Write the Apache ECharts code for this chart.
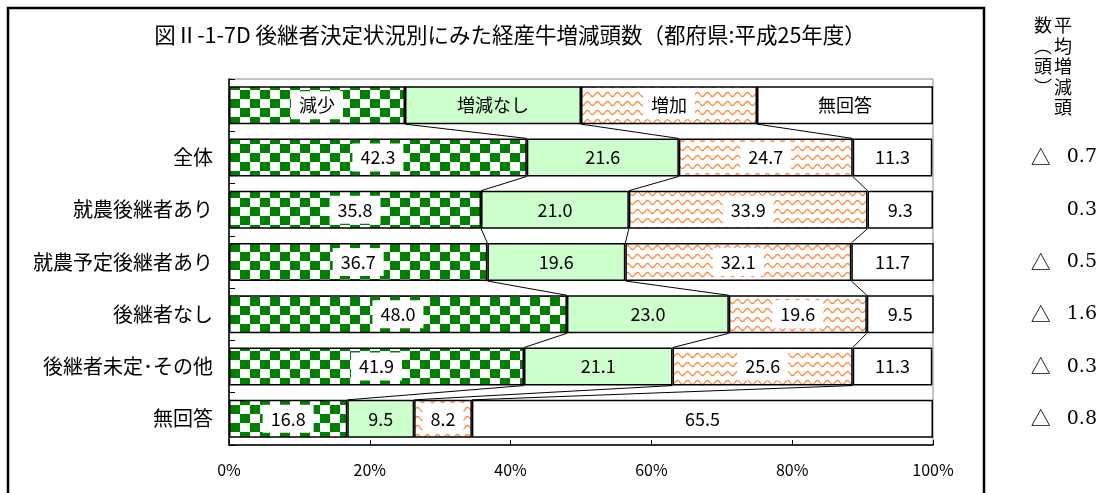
<!DOCTYPE html>
<html>
<head>
<meta charset="utf-8">
<script src="https://cdn.jsdelivr.net/npm/echarts@6/dist/echarts.min.js"></script>
<style>
  html, body { margin: 0; padding: 0; background: #fff; }
  #chart { width: 1109px; height: 493px; }
</style>
</head>
<body>
<div id="chart"></div>
<script>
// 行（先頭行は凡例の見出し行）
var categories = ['', '全体', '就農後継者あり', '就農予定後継者あり', '後継者なし', '後継者未定･その他', '無回答']
var seriesNames = ['減少', '増減なし', '増加', '無回答']
var decrease = [25, 42.3, 35.8, 36.7, 48.0, 41.9, 16.8]
var noChange = [25, 21.6, 21.0, 19.6, 23.0, 21.1, 9.5]
var increase = [25, 24.7, 33.9, 32.1, 19.6, 25.6, 8.2]
var noAnswer = [25, 11.3, 9.3, 11.7, 9.5, 11.3, 65.5]
// 平均増減頭数（頭）
var avgChange = [null, -0.7, 0.3, -0.5, -1.6, -0.3, -0.8]
var xTicks = [0, 20, 40, 60, 80, 100]

var seriesValues = [decrease, noChange, increase, noAnswer]

// 市松模様（減少）
function checkerPattern() {
  var c = document.createElement('canvas')
  c.width = 20
  c.height = 18
  var ctx = c.getContext('2d')
  ctx.fillStyle = '#fff'
  ctx.fillRect(0, 0, 20, 18)
  ctx.fillStyle = '#008000'
  ctx.fillRect(0, 0, 10, 9)
  ctx.fillRect(10, 9, 10, 9)
  return c
}

// 波模様（増加）
function wavePattern() {
  var c = document.createElement('canvas')
  c.width = 10
  c.height = 9
  var ctx = c.getContext('2d')
  ctx.fillStyle = '#fff'
  ctx.fillRect(0, 0, 10, 9)
  ctx.strokeStyle = '#ff8a3d'
  ctx.lineWidth = 1.3
  ctx.beginPath()
  for (var i = 0; i <= 20; i++) {
    var x = i / 2
    var y = 4.5 + 2 * Math.sin(Math.PI * 2 * x / 10)
    if (i === 0) ctx.moveTo(x, y)
    else ctx.lineTo(x, y)
  }
  ctx.stroke()
  return c
}

var fills = [
  { image: checkerPattern(), repeat: 'repeat' },
  '#ccffcc',
  { image: wavePattern(), repeat: 'repeat' },
  '#ffffff'
]
var boxed = [true, false, true, false]

var labelFont = "'Noto Sans CJK JP', 'Noto Sans', sans-serif"
var serifFont = "'DejaVu Serif', 'Liberation Serif', serif"

var barSeries = seriesNames.map(function (name, s) {
  return {
    name: name,
    type: 'bar',
    stack: 'total',
    barWidth: 38,
    yAxisIndex: 0,
    itemStyle: {
      color: fills[s],
      borderColor: '#000',
      borderWidth: 1.5
    },
    label: {
      show: true,
      position: 'inside',
      color: '#000',
      fontSize: 18,
      fontFamily: labelFont,
      backgroundColor: boxed[s] ? '#fff' : 'transparent',
      padding: boxed[s] ? [5, 8] : 0,
      formatter: function (p) {
        return p.dataIndex === 0 ? p.seriesName : p.value.toFixed(1)
      }
    },
    z: 3,
    data: seriesValues[s]
  }
})

// 区分線（隣り合う棒の境界を結ぶ線）
var seriesLineData = []
for (var r = 0; r < categories.length - 1; r++) {
  var a = 0
  var b = 0
  for (var k = 0; k < 3; k++) {
    a += seriesValues[k][r]
    b += seriesValues[k][r + 1]
    seriesLineData.push([a, r, b, r + 1])
  }
}

var chart = echarts.init(document.getElementById('chart'))
chart.setOption({
  animation: false,
  title: {
    text: '図Ⅱ-1-7D 後継者決定状況別にみた経産牛増減頭数（都府県:平成25年度）',
    left: 505,
    top: 19,
    textAlign: 'center',
    textStyle: {
      fontSize: 21.5,
      fontWeight: 'normal',
      color: '#000',
      fontFamily: labelFont
    }
  },
  graphic: [
    {
      type: 'rect',
      shape: { x: 8, y: 8, width: 976, height: 520 },
      style: { fill: 'none', stroke: '#000', lineWidth: 2.5 },
      silent: true
    },
    {
      type: 'text',
      x: 1063,
      y: 15,
      style: {
        text: '平\n均\n増\n減\n頭',
        fontSize: 18,
        lineHeight: 20.5,
        fontFamily: labelFont,
        fill: '#000',
        align: 'center'
      }
    },
    {
      type: 'text',
      x: 1043,
      y: 15,
      style: {
        text: '数\n︵\n頭\n︶',
        fontSize: 18,
        lineHeight: 20.5,
        fontFamily: labelFont,
        fill: '#000',
        align: 'center'
      }
    }
  ],
  grid: {
    left: 229,
    right: 176,
    top: 79,
    bottom: 48,
    show: true,
    borderColor: '#888',
    borderWidth: 1
  },
  xAxis: {
    type: 'value',
    min: xTicks[0],
    max: xTicks[xTicks.length - 1],
    interval: 20,
    axisLine: { show: true, lineStyle: { color: '#000', width: 1.5 } },
    axisTick: { show: true, inside: true, length: 5, lineStyle: { color: '#000' } },
    splitLine: { show: false },
    axisLabel: {
      color: '#000',
      fontSize: 16,
      fontFamily: labelFont,
      margin: 17,
      formatter: '{value}%'
    }
  },
  yAxis: [
    {
      type: 'category',
      inverse: true,
      data: categories,
      axisLine: { show: true, lineStyle: { color: '#000', width: 1.5 } },
      axisTick: { show: true, inside: true, length: 6, lineStyle: { color: '#000' } },
      axisLabel: {
        color: '#000',
        fontSize: 20,
        fontFamily: labelFont,
        margin: 16
      }
    },
    {
      type: 'category',
      inverse: true,
      position: 'right',
      data: categories,
      axisLine: { show: false },
      axisTick: { show: false },
      axisLabel: {
        color: '#000',
        fontSize: 19,
        fontFamily: serifFont,
        align: 'right',
        margin: 164,
        rich: {
          tri: { fontSize: 20, fontFamily: labelFont, padding: [0, 16, 0, 0] },
          num: { fontSize: 19, fontFamily: serifFont }
        },
        formatter: function (value, index) {
          var v = avgChange[index]
          if (v === null || v === undefined) return ''
          return v < 0 ? '{tri|△}{num|' + Math.abs(v).toFixed(1) + '}' : '{num|' + v.toFixed(1) + '}'
        }
      }
    }
  ],
  series: barSeries.concat([
    {
      type: 'custom',
      coordinateSystem: 'cartesian2d',
      yAxisIndex: 0,
      z: 1,
      silent: true,
      encode: { x: [0, 2], y: [1, 3] },
      renderItem: function (params, api) {
        var p1 = api.coord([api.value(0), api.value(1)])
        var p2 = api.coord([api.value(2), api.value(3)])
        var half = 19
        return {
          type: 'line',
          shape: { x1: p1[0], y1: p1[1] + half, x2: p2[0], y2: p2[1] - half },
          style: { stroke: '#000', lineWidth: 1 }
        }
      },
      data: seriesLineData
    }
  ])
})
</script>
</body>
</html>
